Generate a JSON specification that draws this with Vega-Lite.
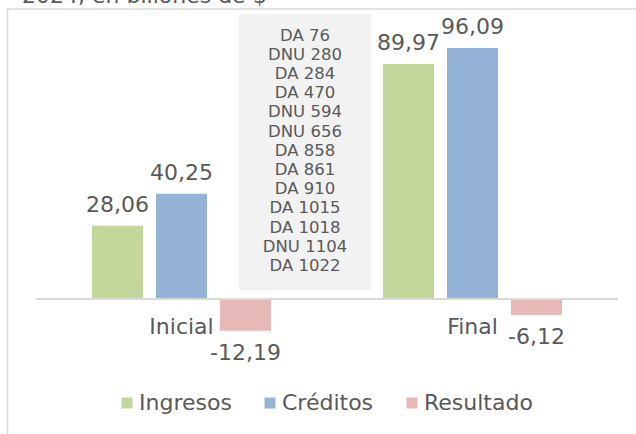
{
  "$schema": "https://vega.github.io/schema/vega-lite/v6.json",
  "width": 629,
  "height": 425,
  "autosize": {"type": "none"},
  "padding": {"left": 7, "top": 9, "right": 0, "bottom": 0},
  "background": "white",
  "config": {
    "font": "DejaVu Sans",
    "view": {"stroke": null},
    "locale": {"number": {"decimal": ",", "thousands": ".", "grouping": [3], "currency": ["$", ""], "minus": "-"}},
    "axisY": {"labels": false, "ticks": false, "grid": false, "domainColor": "#D9D9D9", "domainWidth": 1.5},
    "axisX": {"domain": false, "ticks": false, "grid": false, "labelFontSize": 22, "labelColor": "#595959", "labelPadding": 17, "offset": -135, "labelAngle": 0}
  },
  "title": {
    "text": "2024, en billones de $",
    "anchor": "start",
    "frame": "group",
    "offset": 0,
    "dx": 15,
    "dy": 17,
    "baseline": "alphabetic",
    "fontSize": 22,
    "fontWeight": "normal",
    "color": "#595959",
    "font": "DejaVu Sans"
  },
  "datasets": {
    "barras": [
      {"momento": "Inicial", "serie": "Ingresos", "valor": 28.06},
      {"momento": "Inicial", "serie": "Créditos", "valor": 40.25},
      {"momento": "Inicial", "serie": "Resultado", "valor": -12.19},
      {"momento": "Final", "serie": "Ingresos", "valor": 89.97},
      {"momento": "Final", "serie": "Créditos", "valor": 96.09},
      {"momento": "Final", "serie": "Resultado", "valor": -6.12}
    ],
    "normas": [
      {"texto": "DA 76\nDNU 280\nDA 284\nDA 470\nDNU 594\nDNU 656\nDA 858\nDA 861\nDA 910\nDA 1015\nDA 1018\nDNU 1104\nDA 1022"}
    ]
  },
  "layer": [
    {
      "data": {"values": [{}]},
      "mark": {"type": "rule", "color": "#D9D9D9", "strokeWidth": 1.5},
      "encoding": {"y": {"datum": 111, "type": "quantitative", "title": null}}
    },
    {
      "data": {"name": "normas"},
      "mark": {"type": "rect", "color": "#F2F2F2"},
      "encoding": {
        "x": {"datum": "Inicial", "type": "nominal", "bandPosition": 0.6976, "title": null},
        "x2": {"datum": "Final", "bandPosition": 0.1512},
        "y": {"datum": 109.1, "type": "quantitative", "title": null},
        "y2": {"datum": 3.45}
      }
    },
    {
      "data": {"name": "normas"},
      "mark": {"type": "text", "fontSize": 16.5, "color": "#595959", "lineBreak": "\n", "lineHeight": 19.2, "baseline": "top", "align": "center"},
      "encoding": {
        "x": {"datum": "Inicial", "type": "nominal", "bandPosition": 0.9244, "title": null},
        "y": {"datum": 103.9, "type": "quantitative", "title": null},
        "text": {"field": "texto", "type": "nominal"}
      }
    },
    {
      "data": {"name": "barras"},
      "mark": {"type": "bar"},
      "encoding": {
        "x": {"field": "momento", "type": "nominal", "title": null,
              "scale": {"domain": ["Inicial", "Final"], "paddingInner": 0, "paddingOuter": 0.0808, "align": 0.617}},
        "xOffset": {"field": "serie", "type": "nominal",
                    "scale": {"domain": ["Ingresos", "Créditos", "Resultado"], "paddingInner": 0.203, "paddingOuter": 0.875}},
        "y": {"field": "valor", "type": "quantitative", "title": null,
              "scale": {"domain": [-51.7, 111], "nice": false, "zero": false}},
        "color": {"field": "serie", "type": "nominal",
                  "scale": {"domain": ["Ingresos", "Créditos", "Resultado"], "range": ["#C4D79B", "#95B3D7", "#E6B9B8"]},
                  "legend": {"orient": "none", "legendX": 109, "legendY": 383, "direction": "horizontal", "title": null,
                             "symbolType": "square", "symbolSize": 121, "symbolStrokeWidth": 0, "labelFontSize": 22,
                             "labelColor": "#595959", "columnPadding": 27, "labelOffset": 1, "padding": 0}}
      }
    },
    {
      "data": {"values": [{}]},
      "mark": {"type": "rule", "color": "#D9D9D9", "strokeWidth": 2},
      "encoding": {
        "x": {"datum": "Inicial", "type": "nominal", "bandPosition": 0, "title": null},
        "x2": {"datum": "Final", "bandPosition": 1},
        "y": {"datum": 0, "type": "quantitative", "title": null}
      }
    },
    {
      "data": {"name": "barras"},
      "transform": [{"filter": "datum.valor >= 0"}],
      "mark": {"type": "text", "fontSize": 22, "color": "#595959", "baseline": "alphabetic", "dy": -14},
      "encoding": {
        "x": {"field": "momento", "type": "nominal", "title": null},
        "xOffset": {"field": "serie", "type": "nominal"},
        "y": {"field": "valor", "type": "quantitative", "title": null},
        "text": {"field": "valor", "type": "quantitative", "format": ".2f"}
      }
    },
    {
      "data": {"name": "barras"},
      "transform": [{"filter": "datum.valor < 0"}],
      "mark": {"type": "text", "fontSize": 22, "color": "#595959", "baseline": "top", "dy": 12},
      "encoding": {
        "x": {"field": "momento", "type": "nominal", "title": null},
        "xOffset": {"field": "serie", "type": "nominal"},
        "y": {"field": "valor", "type": "quantitative", "title": null},
        "text": {"field": "valor", "type": "quantitative", "format": ".2f"}
      }
    }
  ]
}
